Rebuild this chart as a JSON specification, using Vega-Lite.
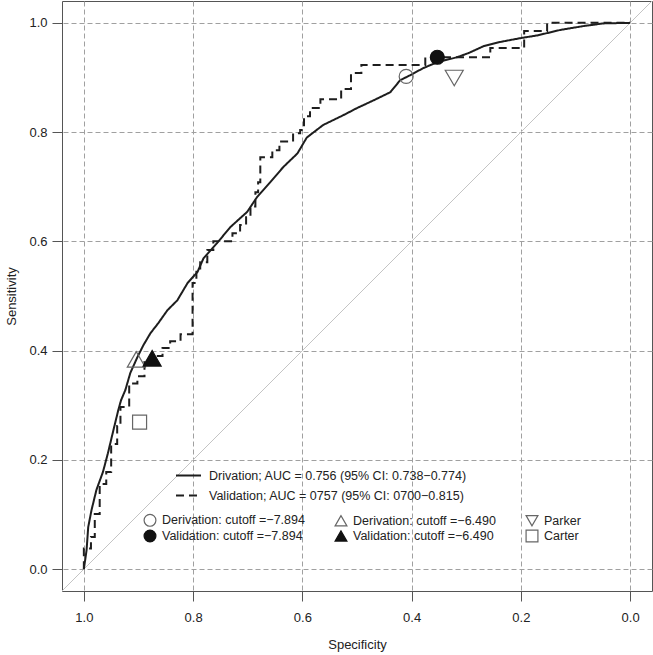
{
  "$schema": "https://vega.github.io/schema/vega-lite/v6.json",
  "width": 590,
  "height": 590,
  "autosize": {"type": "none"},
  "padding": {"left": 62, "top": 1, "right": 1, "bottom": 64},
  "background": "white",
  "config": {
    "font": "Liberation Sans",
    "view": {"stroke": "#555555", "strokeWidth": 1},
    "axis": {
      "grid": true,
      "gridColor": "#a0a0a0",
      "gridDash": [5, 3],
      "gridWidth": 1,
      "domain": false,
      "tickColor": "#555555",
      "tickSize": 10,
      "labelFont": "Liberation Sans",
      "labelFontSize": 13,
      "labelColor": "#222222",
      "titleFont": "Liberation Sans",
      "titleFontSize": 13,
      "titleFontWeight": "normal",
      "titleColor": "#222222"
    },
    "legend": {
      "padding": 0,
      "labelFont": "Liberation Sans",
      "labelFontSize": 12.5,
      "labelColor": "#222222",
      "labelLimit": 500
    }
  },
  "datasets": {
    "diagonal": [
      {"spec": 1.04, "sens": -0.04},
      {"spec": -0.04, "sens": 1.04}
    ],
    "derivation": [
      {"curve": "Derivation", "spec": 1.000, "sens": 0.000},
      {"curve": "Derivation", "spec": 0.995, "sens": 0.035},
      {"curve": "Derivation", "spec": 0.992, "sens": 0.077},
      {"curve": "Derivation", "spec": 0.986, "sens": 0.108},
      {"curve": "Derivation", "spec": 0.977, "sens": 0.145},
      {"curve": "Derivation", "spec": 0.965, "sens": 0.178},
      {"curve": "Derivation", "spec": 0.956, "sens": 0.212},
      {"curve": "Derivation", "spec": 0.946, "sens": 0.254},
      {"curve": "Derivation", "spec": 0.937, "sens": 0.291},
      {"curve": "Derivation", "spec": 0.932, "sens": 0.309},
      {"curve": "Derivation", "spec": 0.924, "sens": 0.328},
      {"curve": "Derivation", "spec": 0.915, "sens": 0.359},
      {"curve": "Derivation", "spec": 0.902, "sens": 0.388},
      {"curve": "Derivation", "spec": 0.891, "sens": 0.410},
      {"curve": "Derivation", "spec": 0.878, "sens": 0.432},
      {"curve": "Derivation", "spec": 0.864, "sens": 0.450},
      {"curve": "Derivation", "spec": 0.847, "sens": 0.474},
      {"curve": "Derivation", "spec": 0.829, "sens": 0.492},
      {"curve": "Derivation", "spec": 0.810, "sens": 0.524},
      {"curve": "Derivation", "spec": 0.792, "sens": 0.544},
      {"curve": "Derivation", "spec": 0.781, "sens": 0.569},
      {"curve": "Derivation", "spec": 0.756, "sens": 0.597},
      {"curve": "Derivation", "spec": 0.732, "sens": 0.626},
      {"curve": "Derivation", "spec": 0.701, "sens": 0.654},
      {"curve": "Derivation", "spec": 0.683, "sens": 0.681},
      {"curve": "Derivation", "spec": 0.659, "sens": 0.708},
      {"curve": "Derivation", "spec": 0.635, "sens": 0.736},
      {"curve": "Derivation", "spec": 0.609, "sens": 0.761},
      {"curve": "Derivation", "spec": 0.592, "sens": 0.790},
      {"curve": "Derivation", "spec": 0.562, "sens": 0.813},
      {"curve": "Derivation", "spec": 0.525, "sens": 0.831},
      {"curve": "Derivation", "spec": 0.500, "sens": 0.844},
      {"curve": "Derivation", "spec": 0.470, "sens": 0.858},
      {"curve": "Derivation", "spec": 0.439, "sens": 0.873},
      {"curve": "Derivation", "spec": 0.421, "sens": 0.895},
      {"curve": "Derivation", "spec": 0.403, "sens": 0.904},
      {"curve": "Derivation", "spec": 0.379, "sens": 0.917},
      {"curve": "Derivation", "spec": 0.353, "sens": 0.928},
      {"curve": "Derivation", "spec": 0.317, "sens": 0.937},
      {"curve": "Derivation", "spec": 0.295, "sens": 0.945},
      {"curve": "Derivation", "spec": 0.269, "sens": 0.957},
      {"curve": "Derivation", "spec": 0.238, "sens": 0.965},
      {"curve": "Derivation", "spec": 0.201, "sens": 0.972},
      {"curve": "Derivation", "spec": 0.170, "sens": 0.977},
      {"curve": "Derivation", "spec": 0.128, "sens": 0.987},
      {"curve": "Derivation", "spec": 0.086, "sens": 0.994},
      {"curve": "Derivation", "spec": 0.049, "sens": 0.999},
      {"curve": "Derivation", "spec": 0.000, "sens": 1.000}
    ],
    "validation": [
      {"curve": "Validation", "spec": 1.000, "sens": 0.000},
      {"curve": "Validation", "spec": 0.987, "sens": 0.038},
      {"curve": "Validation", "spec": 0.980, "sens": 0.059},
      {"curve": "Validation", "spec": 0.971, "sens": 0.101},
      {"curve": "Validation", "spec": 0.959, "sens": 0.156},
      {"curve": "Validation", "spec": 0.950, "sens": 0.178},
      {"curve": "Validation", "spec": 0.939, "sens": 0.229},
      {"curve": "Validation", "spec": 0.933, "sens": 0.262},
      {"curve": "Validation", "spec": 0.917, "sens": 0.297},
      {"curve": "Validation", "spec": 0.902, "sens": 0.340},
      {"curve": "Validation", "spec": 0.889, "sens": 0.353},
      {"curve": "Validation", "spec": 0.875, "sens": 0.379},
      {"curve": "Validation", "spec": 0.856, "sens": 0.390},
      {"curve": "Validation", "spec": 0.842, "sens": 0.405},
      {"curve": "Validation", "spec": 0.823, "sens": 0.417},
      {"curve": "Validation", "spec": 0.801, "sens": 0.430},
      {"curve": "Validation", "spec": 0.794, "sens": 0.524},
      {"curve": "Validation", "spec": 0.787, "sens": 0.547},
      {"curve": "Validation", "spec": 0.774, "sens": 0.562},
      {"curve": "Validation", "spec": 0.763, "sens": 0.584},
      {"curve": "Validation", "spec": 0.728, "sens": 0.600},
      {"curve": "Validation", "spec": 0.714, "sens": 0.615},
      {"curve": "Validation", "spec": 0.703, "sens": 0.630},
      {"curve": "Validation", "spec": 0.695, "sens": 0.644},
      {"curve": "Validation", "spec": 0.686, "sens": 0.664},
      {"curve": "Validation", "spec": 0.681, "sens": 0.690},
      {"curve": "Validation", "spec": 0.677, "sens": 0.708},
      {"curve": "Validation", "spec": 0.655, "sens": 0.754},
      {"curve": "Validation", "spec": 0.642, "sens": 0.767},
      {"curve": "Validation", "spec": 0.617, "sens": 0.783},
      {"curve": "Validation", "spec": 0.604, "sens": 0.798},
      {"curve": "Validation", "spec": 0.597, "sens": 0.804},
      {"curve": "Validation", "spec": 0.586, "sens": 0.829},
      {"curve": "Validation", "spec": 0.567, "sens": 0.844},
      {"curve": "Validation", "spec": 0.529, "sens": 0.860},
      {"curve": "Validation", "spec": 0.511, "sens": 0.879},
      {"curve": "Validation", "spec": 0.492, "sens": 0.908},
      {"curve": "Validation", "spec": 0.375, "sens": 0.923},
      {"curve": "Validation", "spec": 0.256, "sens": 0.937},
      {"curve": "Validation", "spec": 0.194, "sens": 0.954},
      {"curve": "Validation", "spec": 0.152, "sens": 0.985},
      {"curve": "Validation", "spec": 0.000, "sens": 1.000}
    ],
    "markers": [
      {"pt": "Derivation: cutoff =−7.894", "spec": 0.410, "sens": 0.902},
      {"pt": "Validation: cutoff =−7.894", "spec": 0.353, "sens": 0.937},
      {"pt": "Derivation: cutoff =−6.490", "spec": 0.904, "sens": 0.384},
      {"pt": "Validation: cutoff =−6.490", "spec": 0.875, "sens": 0.386},
      {"pt": "Parker", "spec": 0.322, "sens": 0.899},
      {"pt": "Carter", "spec": 0.898, "sens": 0.269}
    ]
  },
  "layer": [
    {
      "data": {"name": "diagonal"},
      "mark": {"type": "line", "color": "#c4c4c4", "strokeWidth": 1, "clip": true},
      "encoding": {
        "x": {
          "field": "spec", "type": "quantitative",
          "scale": {"domain": [-0.04, 1.04], "reverse": true, "nice": false, "zero": false},
          "axis": {"values": [0, 0.2, 0.4, 0.6, 0.8, 1], "format": ".1f", "title": "Specificity", "labelPadding": 10, "titlePadding": 14}
        },
        "y": {
          "field": "sens", "type": "quantitative",
          "scale": {"domain": [-0.04, 1.04], "nice": false, "zero": false},
          "axis": {"values": [0, 0.2, 0.4, 0.6, 0.8, 1], "format": ".1f", "title": "Sensitivity", "labelPadding": 5, "titlePadding": 10}
        }
      }
    },
    {
      "data": {"name": "derivation"},
      "mark": {"type": "line", "color": "#1e1e1e", "strokeWidth": 2, "interpolate": "linear"},
      "encoding": {
        "x": {"field": "spec", "type": "quantitative"},
        "y": {"field": "sens", "type": "quantitative"},
        "order": {"field": "spec", "sort": "descending"},
        "strokeDash": {
          "field": "curve", "type": "nominal",
          "scale": {"domain": ["Derivation", "Validation"], "range": [[1, 0], [8, 5]]},
          "legend": {
            "title": null, "orient": "none", "legendX": 113, "legendY": 461,
            "symbolType": "stroke", "symbolSize": 625, "symbolStrokeWidth": 2,
            "symbolStrokeColor": "#1e1e1e", "labelOffset": 7, "rowPadding": -1,
            "labelExpr": "datum.label == 'Derivation' ? 'Drivation; AUC = 0.756 (95% CI: 0.738−0.774)' : 'Validation; AUC = 0757 (95% CI: 0700−0.815)'"
          }
        }
      }
    },
    {
      "data": {"name": "validation"},
      "mark": {"type": "line", "color": "#1e1e1e", "strokeWidth": 2, "interpolate": "step-before"},
      "encoding": {
        "x": {"field": "spec", "type": "quantitative"},
        "y": {"field": "sens", "type": "quantitative"},
        "order": {"field": "spec", "sort": "descending"},
        "strokeDash": {"field": "curve", "type": "nominal"}
      }
    },
    {
      "data": {"name": "markers"},
      "transform": [{"filter": "indexof(['Parker', 'Derivation: cutoff =−6.490', 'Validation: cutoff =−6.490'], datum.pt) < 0"}],
      "mark": {"type": "point", "filled": true, "size": 196, "strokeWidth": 1.2, "opacity": 1},
      "encoding": {
        "x": {"field": "spec", "type": "quantitative"},
        "y": {"field": "sens", "type": "quantitative"},
        "shape": {
          "field": "pt", "type": "nominal",
          "scale": {
            "domain": ["Derivation: cutoff =−7.894", "Validation: cutoff =−7.894", "Derivation: cutoff =−6.490", "Validation: cutoff =−6.490", "Parker", "Carter"],
            "range": ["circle", "circle", "triangle-up", "triangle-up", "triangle-down", "square"]
          },
          "legend": {
            "title": null, "orient": "none", "legendX": 81, "legendY": 512,
            "columns": 3, "columnPadding": 27, "rowPadding": -2,
            "symbolSize": 140, "symbolStrokeWidth": 1.2, "labelOffset": 5
          }
        },
        "fill": {
          "field": "pt", "type": "nominal",
          "scale": {
            "domain": ["Derivation: cutoff =−7.894", "Validation: cutoff =−7.894", "Derivation: cutoff =−6.490", "Validation: cutoff =−6.490", "Parker", "Carter"],
            "range": ["transparent", "#111111", "transparent", "#111111", "transparent", "transparent"]
          },
          "legend": {
            "title": null, "orient": "none", "legendX": 81, "legendY": 512,
            "columns": 3, "columnPadding": 27, "rowPadding": -2,
            "symbolSize": 140, "symbolStrokeWidth": 1.2, "labelOffset": 5
          }
        },
        "stroke": {
          "field": "pt", "type": "nominal",
          "scale": {
            "domain": ["Derivation: cutoff =−7.894", "Validation: cutoff =−7.894", "Derivation: cutoff =−6.490", "Validation: cutoff =−6.490", "Parker", "Carter"],
            "range": ["#666666", "#111111", "#666666", "#111111", "#666666", "#666666"]
          },
          "legend": {
            "title": null, "orient": "none", "legendX": 81, "legendY": 512,
            "columns": 3, "columnPadding": 27, "rowPadding": -2,
            "symbolSize": 140, "symbolStrokeWidth": 1.2, "labelOffset": 5
          }
        }
      }
    },
    {
      "data": {"name": "markers"},
      "transform": [{"filter": "indexof(['Parker', 'Derivation: cutoff =−6.490', 'Validation: cutoff =−6.490'], datum.pt) >= 0"}],
      "mark": {"type": "point", "filled": true, "size": 324, "strokeWidth": 1.2, "opacity": 1},
      "encoding": {
        "x": {"field": "spec", "type": "quantitative"},
        "y": {"field": "sens", "type": "quantitative"},
        "shape": {"field": "pt", "type": "nominal"},
        "fill": {"field": "pt", "type": "nominal"},
        "stroke": {"field": "pt", "type": "nominal"}
      }
    }
  ]
}
